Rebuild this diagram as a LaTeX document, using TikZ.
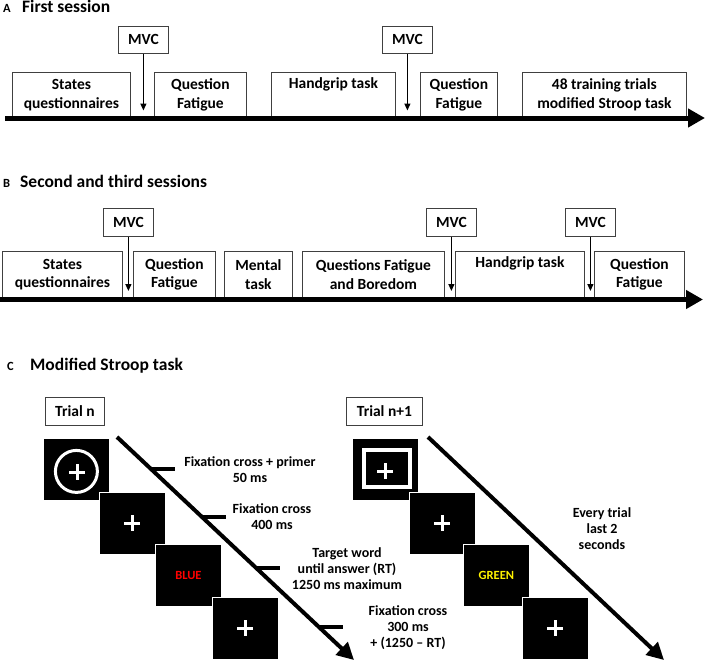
\documentclass[tikz,border=0pt]{standalone}
\usepackage{fontspec}
\setmainfont{Carlito}
\usetikzlibrary{positioning, arrows.meta, calc}

\tikzset{
  fixcross/.pic={\draw[white, line width=3.5pt] (-8,0) -- (8,0) (0,-8) -- (0,8);}
}

\begin{document}
\begin{tikzpicture}[x=1pt, y=-1pt,
    phase/.style={draw=black!75, line width=0.8pt, anchor=north west, align=center, inner sep=0pt, font=\bfseries\fontsize{15.5}{18.5}\selectfont, execute at begin node={\rule{0pt}{15pt}}},
    mvc/.style={draw=black!75, line width=0.8pt, anchor=north west, minimum width=50pt, inner sep=0pt, font=\bfseries\fontsize{15.5}{17}\selectfont},
    title/.style={anchor=base west, inner sep=0pt, font=\bfseries\fontsize{17.5}{20}\selectfont},
    letter/.style={anchor=base west, inner sep=0pt, font=\bfseries\fontsize{12.5}{14}\selectfont},
    timeline/.style={line width=5pt, -{Triangle[length=17pt, width=18pt]}},
    pulse/.style={line width=1.2pt, -{Triangle[length=7pt, width=6pt]}},
    screen/.style={fill=black, draw=white, line width=0.8pt, anchor=north west, minimum width=66pt, minimum height=62pt, inner sep=0pt, font=\bfseries\fontsize{12.5}{14}\selectfont},
    timeflow/.style={line width=4pt, -{Triangle[length=17pt, width=17pt]}},
    tick/.style={line width=4pt},
    note/.style={align=center, inner sep=0pt, font=\bfseries\fontsize{14}{16}\selectfont},
    trial/.style={draw=black!75, line width=0.8pt, anchor=north west, minimum height=28pt, inner sep=0pt, font=\bfseries\fontsize{15.5}{17}\selectfont}
  ]
  \useasboundingbox (0,0) rectangle (708,661);

  % A: first session
  \node (labA) [letter] at (3,13) {A};
  \node (titleA) [title] at (22,13) {First session};

  \node (aSQ) [phase, minimum width=118pt, minimum height=45pt] at (12,72) {States\\questionnaires};
  \node (aQF1) [phase, minimum width=92pt, minimum height=45pt] at (154,72) {Question\\Fatigue};
  \node (aHG) [phase, minimum width=124pt, minimum height=45pt] at (271,72) {Handgrip task\\\strut};
  \node (aQF2) [phase, minimum width=77pt, minimum height=45pt] at (420,72) {Question\\Fatigue};
  \node (aTR) [phase, minimum width=164pt, minimum height=45pt] at (522,72) {48 training trials\\modified Stroop task};

  \node (mA1) [mvc, minimum height=27pt] at (118,26) {MVC};
  \node (mA2) [mvc, minimum height=27pt] at (382,26) {MVC};

  \coordinate (aStart) at (5,118);
  \coordinate (aEnd) at (705,118);
  \coordinate (aStop) at (0,110.5);
  \draw[timeline] (aStart) -- (aEnd);
  \draw[pulse] (mA1) -- (mA1 |- aStop);
  \draw[pulse] (mA2) -- (mA2 |- aStop);

  % B: second and third sessions
  \node (labB) [letter] at (3,187) {B};
  \node (titleB) [title] at (20,187) {Second and third sessions};

  \node (bSQ) [phase, minimum width=120pt, minimum height=46pt] at (2,251) {States\\questionnaires};
  \node (bQF1) [phase, minimum width=82pt, minimum height=46pt] at (133,251) {Question\\Fatigue};
  \node (bMT) [phase, minimum width=68pt, minimum height=46pt] at (224,251) {Mental\\task};
  \node (bQB) [phase, minimum width=142pt, minimum height=46pt] at (302,251) {Questions Fatigue\\and Boredom};
  \node (bHG) [phase, minimum width=129pt, minimum height=46pt] at (455,251) {Handgrip task\\\strut};
  \node (bQF2) [phase, minimum width=90pt, minimum height=46pt] at (594,251) {Question\\Fatigue};

  \node (mB1) [mvc, minimum height=28pt] at (103,208) {MVC};
  \node (mB2) [mvc, minimum height=28pt] at (426,208) {MVC};
  \node (mB3) [mvc, minimum height=28pt] at (565,208) {MVC};

  \coordinate (bStart) at (0,299.5);
  \coordinate (bEnd) at (703,299.5);
  \coordinate (bStop) at (0,291);
  \draw[timeline] (bStart) -- (bEnd);
  \draw[pulse] (mB1) -- (mB1 |- bStop);
  \draw[pulse] (mB2) -- (mB2 |- bStop);
  \draw[pulse] (mB3) -- (mB3 |- bStop);

  % C: modified Stroop task
  \node (labC) [letter] at (7,370) {C};
  \node (titleC) [title] at (30,370) {Modified Stroop task};

  \node (trialA) [trial, minimum width=59pt] at (45,397) {Trial n};
  \node (trialB) [trial, minimum width=76pt] at (346,397) {Trial n+1};

  % screens of trial n
  \node (na1) [screen] at (43,438) {};
  \node (na2) [screen] at (99,492) {};
  \node (na3) [screen, text=red] at (155,544) {BLUE};
  \node (na4) [screen] at (212,597) {};
  \draw[white, line width=3pt] ($(na1.center)+(0,2)$) circle[radius=21pt];
  \pic at ($(na1.center)+(1,3)$) {fixcross};
  \pic at (na2.center) {fixcross};
  \pic at (na4.center) {fixcross};

  % screens of trial n+1
  \node (nb1) [screen] at (352,438) {};
  \node (nb2) [screen] at (409,492) {};
  \node (nb3) [screen, text=yellow] at (463,544) {GREEN};
  \node (nb4) [screen] at (522,597) {};
  \draw[white, line width=4pt] ($(nb1.center)+(-21,-19)$) rectangle ($(nb1.center)+(25,18)$);
  \pic at ($(nb1.center)+(0,2)$) {fixcross};
  \pic at (nb2.center) {fixcross};
  \pic at (nb4.center) {fixcross};

  % time arrows
  \coordinate (fa0) at (117,437);
  \coordinate (fa1) at (354,660);
  \draw[timeflow] (fa0) -- (fa1)
    coordinate[pos=0.1435] (ta1)
    coordinate[pos=0.359] (ta2)
    coordinate[pos=0.587] (ta3)
    coordinate[pos=0.852] (ta4);
  \draw[tick] (ta1) -- ++(24,0);
  \draw[tick] (ta2) -- ++(24,0);
  \draw[tick] (ta3) -- ++(24,0);
  \draw[tick] (ta4) -- ++(24,0);

  \coordinate (fb0) at (428,437);
  \coordinate (fb1) at (664,660);
  \draw[timeflow] (fb0) -- (fb1);

  % labels
  \node (la1) [note] at (250,470) {Fixation cross + primer\\50 ms};
  \node (la2) [note] at (272,517) {Fixation cross\\400 ms};
  \node (la3) [note] at (347,569) {Target word\\until answer (RT)\\1250 ms maximum};
  \node (la4) [note] at (408,628) {Fixation cross\\300 ms\\+ (1250 – RT)};
  \node (lb) [note] at (602,529) {Every trial\\last 2\\seconds};
\end{tikzpicture}
\end{document}
